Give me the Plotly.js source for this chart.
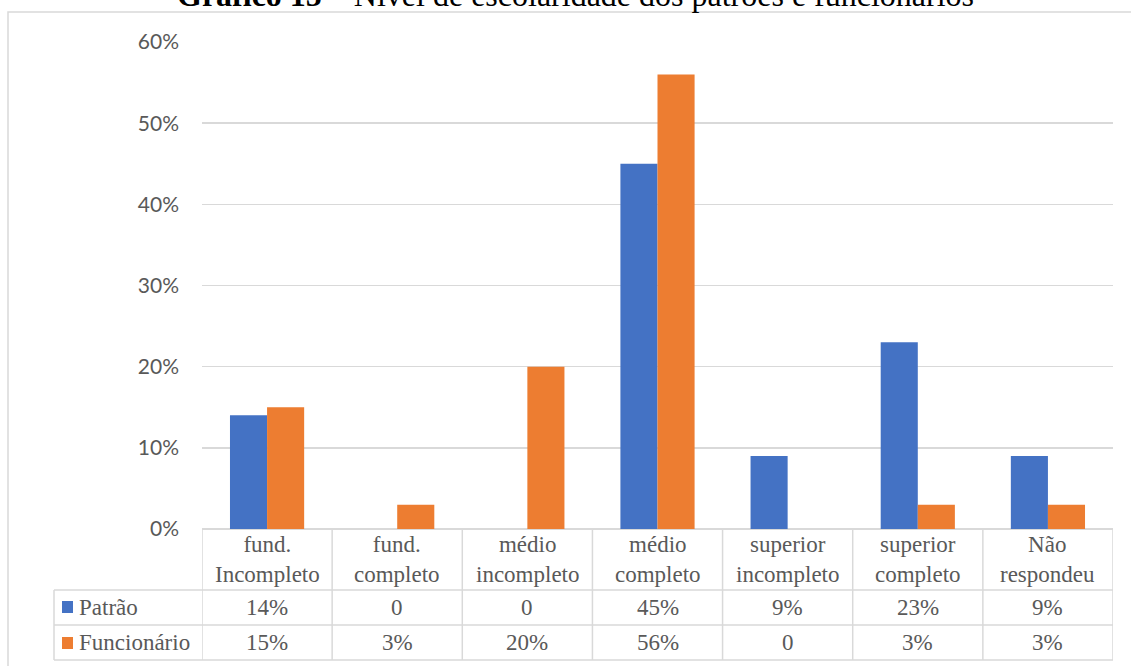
<!DOCTYPE html>
<html><head><meta charset="utf-8">
<script src="https://cdn.plot.ly/plotly-3.0.1.min.js"></script>
<style>html,body{margin:0;padding:0;background:#fff}#chart{width:1131px;height:666px}</style>
</head><body><div id="chart"></div>
<script>
// ---- data ----
const categories = ['fund.<br>Incompleto', 'fund.<br>completo', 'médio<br>incompleto', 'médio<br>completo', 'superior<br>incompleto', 'superior<br>completo', 'Não<br>respondeu'];
const seriesNames = ['Patrão', 'Funcionário'];
const patrao = [14, 0, 0, 45, 9, 23, 9];
const funcionario = [15, 3, 20, 56, 0, 3, 3];
const yTicks = [0, 10, 20, 30, 40, 50, 60];
const titleBold = 'Gráfico 15';
const titleRest = ' – Nível de escolaridade dos patrões e funcionários';

// ---- styling ----
const colors = ['#4472C4', '#ED7D31'];
const gridColor = '#d9d9d9';
const textColor = '#595959';
const serif = 'Liberation Serif';

const W = 1131, H = 666, L = 202, R = 18, T = 42, B = 137;
const pw = W - L - R, ph = H - T - B;
const px = x => (x - L) / pw;
const py = y => (H - B - y) / ph;

const xs = categories.map((c, i) => i);
const series = [patrao, funcionario];

const traces = series.map((vals, s) => ({
  type: 'bar', x: xs, y: vals, name: seriesNames[s],
  marker: {color: colors[s]}, hoverinfo: 'skip'
}));

const fmt = v => v === 0 ? '0' : v + '%';
const rowY = [py(607.5), py(642.5)];
const tf = {family: serif, size: 23, color: textColor};
const annotations = [];
categories.forEach((c, i) => {
  annotations.push({xref: 'x', yref: 'paper', x: i, y: py(559.5), text: c, showarrow: false,
    xanchor: 'center', yanchor: 'middle', font: tf});
  series.forEach((vals, s) => {
    annotations.push({xref: 'x', yref: 'paper', x: i, y: rowY[s], text: fmt(vals[i]), showarrow: false,
      xanchor: 'center', yanchor: 'middle', font: tf});
  });
});
seriesNames.forEach((n, s) => {
  annotations.push({xref: 'paper', yref: 'paper', x: px(77), y: rowY[s], text: n, showarrow: false,
    xanchor: 'left', yanchor: 'middle', font: tf});
});
annotations.push({xref: 'paper', yref: 'paper', x: px(575), y: py(-5), text: '<b>' + titleBold + '</b>' + titleRest,
  showarrow: false, xanchor: 'center', yanchor: 'middle', font: {family: serif, size: 32, color: '#000'}});

const ln = {color: gridColor, width: 1.5};
const shapes = [];
// outer frame
shapes.push({type: 'rect', xref: 'paper', yref: 'paper', x0: px(8), x1: px(1160), y0: py(700), y1: py(12), line: ln, layer: 'below'});
// table verticals at category boundaries
for (let i = 0; i <= categories.length; i++) {
  shapes.push({type: 'line', xref: 'x', yref: 'paper', x0: i - 0.5, x1: i - 0.5, y0: 0, y1: py(660), line: ln});
}
// legend column left border
shapes.push({type: 'line', xref: 'paper', yref: 'paper', x0: px(54), x1: px(54), y0: py(590), y1: py(660), line: ln});
// horizontal rows
[590, 625, 660].forEach(yy => {
  shapes.push({type: 'line', xref: 'paper', yref: 'paper', x0: px(54), x1: 1, y0: py(yy), y1: py(yy), line: ln});
});
// legend keys
[[601, 613], [637, 649]].forEach((r, s) => {
  shapes.push({type: 'rect', xref: 'paper', yref: 'paper', x0: px(62), x1: px(73), y0: py(r[1]), y1: py(r[0]),
    fillcolor: colors[s], line: {width: 0}});
});

const layout = {
  width: W, height: H,
  margin: {l: L, r: R, t: T, b: B, pad: 0},
  paper_bgcolor: '#fff', plot_bgcolor: '#fff',
  barmode: 'group', bargap: 0.43, bargroupgap: 0,
  showlegend: false,
  xaxis: {range: [-0.5, categories.length - 0.5], showticklabels: false, showgrid: false, zeroline: false, showline: false, fixedrange: true},
  yaxis: {range: [0, 60], tickvals: yTicks, ticktext: yTicks.map(v => v + '%'), showgrid: true, gridcolor: gridColor, gridwidth: 1.5,
    zeroline: true, zerolinecolor: gridColor, zerolinewidth: 1.5, showline: false, ticks: '', ticklabelstandoff: 22,
    tickfont: {family: 'Lato', size: 21, color: textColor}, fixedrange: true},
  annotations: annotations,
  shapes: shapes
};

Plotly.newPlot('chart', traces, layout, {displayModeBar: false, staticPlot: true});
</script>
</body></html>
